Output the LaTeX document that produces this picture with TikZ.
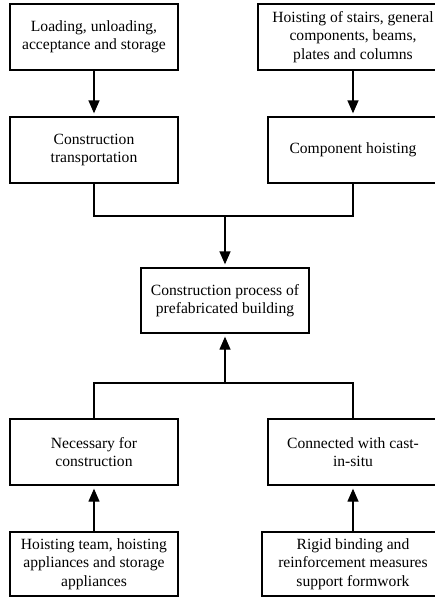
\documentclass[tikz,border=0pt]{standalone}
\usepackage{fontspec}
\setmainfont{Liberation Serif}
\usetikzlibrary{arrows.meta}
\begin{document}
\begin{tikzpicture}[x=1pt,y=-1pt,
  box/.style={draw,line width=1.3pt,minimum height=66pt,align=center,inner sep=2pt,font=\fontsize{15.6}{18.5}\selectfont},
  conn/.style={line width=1.3pt},
  arr/.style={line width=1.3pt,-{Triangle[length=13pt,width=11pt]},shorten >=3pt}]
\useasboundingbox (0,0) rectangle (435,598);
\clip (0,0) rectangle (435,598);
\node[box,minimum width=168pt] (A) at (94,37) {Loading, unloading,\\acceptance and storage};
\node[box,minimum width=168pt] (B) at (94,150) {Construction\\transportation};
\node[box,minimum width=190pt] (C) at (353,37) {Hoisting of stairs, general\\components, beams,\\plates and columns};
\node[box,minimum width=170pt] (D) at (353,150) {Component hoisting};
\node[box,minimum width=168pt,minimum height=65pt] (E) at (225,300.5) {Construction process of\\prefabricated building};
\node[box,minimum width=168pt] (F) at (94,452) {Necessary for\\construction};
\node[box,minimum width=170pt] (H) at (353,452) {Connected with cast-\\in-situ};
\node[box,minimum width=168pt,minimum height=64pt] (G) at (94,564) {Hoisting team, hoisting\\appliances and storage\\appliances};
\node[box,minimum width=182pt,minimum height=64pt] (I) at (353,564) {Rigid binding and\\reinforcement measures\\support formwork};
\coordinate (t1) at (225,216);
\coordinate (t2) at (225,383);
\draw[arr] (A) -- (B);
\draw[arr] (C) -- (D);
\draw[conn] (B.south) |- (t1) -| (D.south);
\draw[arr] (t1) -- (E.north);
\draw[conn] (F.north) |- (t2) -| (H.north);
\draw[arr] (t2) -- (E.south);
\draw[arr] (G) -- (F);
\draw[arr] (I) -- (H);
\end{tikzpicture}
\end{document}
